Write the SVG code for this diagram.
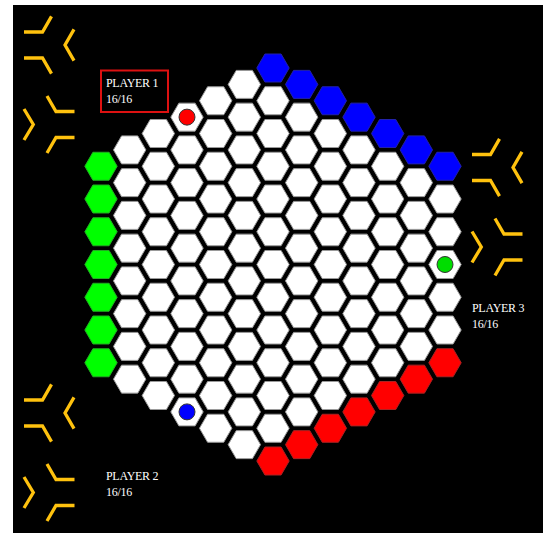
<svg xmlns="http://www.w3.org/2000/svg" xmlns:xlink="http://www.w3.org/1999/xlink" width="543" height="533" viewBox="0 0 543 533">
<style>
.w{fill:#ffffff;stroke:#9a9a9a;stroke-width:1}
.g{fill:#00ff00;stroke:#22aa22;stroke-width:1}
.b{fill:#0000ff;stroke:#2222aa;stroke-width:1}
.r{fill:#ff0000;stroke:#aa2222;stroke-width:1}
.em{fill:none;stroke:#ffc20e;stroke-width:3.3;stroke-linecap:butt;stroke-linejoin:miter}
.t{font-family:"Liberation Serif","Times New Roman",serif;font-size:12px;fill:#ffffff;letter-spacing:-0.3px}
.dot{stroke:#333333;stroke-width:1}
</style>
<defs>
<polygon id="h" points="-16.2,0 -8.1,-14 8.1,-14 16.2,0 8.1,14 -8.1,14"/>
<g id="emblem">
<polyline class="em" points="24,32 42.5,32 51.5,16.4"/>
<polyline class="em" points="74,29.4 65,45 74,60.6"/>
<polyline class="em" points="24,58 42.5,58 51.5,73.6"/>
<polyline class="em" points="47,96 56,111.5 74.5,111.5"/>
<polyline class="em" points="24,109 33.3,124.5 24,140"/>
<polyline class="em" points="47,153 56,137.5 74.5,137.5"/>
</g>
</defs>
<rect x="13" y="5" width="530" height="528" fill="#000000"/>
<g id="emblems">
<use href="#emblem"/>
<use href="#emblem" transform="translate(0,368)"/>
<use href="#emblem" transform="translate(448,122.5)"/>
</g>
<g id="board">
<g id="col0" class="g">
<use href="#h" x="101" y="166.25"/><use href="#h" x="101" y="199"/><use href="#h" x="101" y="231.75"/><use href="#h" x="101" y="264.5"/><use href="#h" x="101" y="297.25"/><use href="#h" x="101" y="330"/><use href="#h" x="101" y="362.75"/>
</g>
<g id="col1" class="w">
<use href="#h" x="129.67" y="149.88"/><use href="#h" x="129.67" y="182.63"/><use href="#h" x="129.67" y="215.38"/><use href="#h" x="129.67" y="248.13"/><use href="#h" x="129.67" y="280.88"/><use href="#h" x="129.67" y="313.63"/><use href="#h" x="129.67" y="346.38"/><use href="#h" x="129.67" y="379.13"/>
</g>
<g id="col2" class="w">
<use href="#h" x="158.33" y="133.5"/><use href="#h" x="158.33" y="166.25"/><use href="#h" x="158.33" y="199"/><use href="#h" x="158.33" y="231.75"/><use href="#h" x="158.33" y="264.5"/><use href="#h" x="158.33" y="297.25"/><use href="#h" x="158.33" y="330"/><use href="#h" x="158.33" y="362.75"/><use href="#h" x="158.33" y="395.5"/>
</g>
<g id="col3" class="w">
<use href="#h" x="187" y="117.13"/><use href="#h" x="187" y="149.88"/><use href="#h" x="187" y="182.63"/><use href="#h" x="187" y="215.38"/><use href="#h" x="187" y="248.13"/><use href="#h" x="187" y="280.88"/><use href="#h" x="187" y="313.63"/><use href="#h" x="187" y="346.38"/><use href="#h" x="187" y="379.13"/><use href="#h" x="187" y="411.88"/>
</g>
<g id="col4" class="w">
<use href="#h" x="215.67" y="100.75"/><use href="#h" x="215.67" y="133.5"/><use href="#h" x="215.67" y="166.25"/><use href="#h" x="215.67" y="199"/><use href="#h" x="215.67" y="231.75"/><use href="#h" x="215.67" y="264.5"/><use href="#h" x="215.67" y="297.25"/><use href="#h" x="215.67" y="330"/><use href="#h" x="215.67" y="362.75"/><use href="#h" x="215.67" y="395.5"/><use href="#h" x="215.67" y="428.25"/>
</g>
<g id="col5" class="w">
<use href="#h" x="244.33" y="84.38"/><use href="#h" x="244.33" y="117.13"/><use href="#h" x="244.33" y="149.88"/><use href="#h" x="244.33" y="182.63"/><use href="#h" x="244.33" y="215.38"/><use href="#h" x="244.33" y="248.13"/><use href="#h" x="244.33" y="280.88"/><use href="#h" x="244.33" y="313.63"/><use href="#h" x="244.33" y="346.38"/><use href="#h" x="244.33" y="379.13"/><use href="#h" x="244.33" y="411.88"/><use href="#h" x="244.33" y="444.63"/>
</g>
<g id="col6" class="w">
<use href="#h" class="b" x="273" y="68"/><use href="#h" x="273" y="100.75"/><use href="#h" x="273" y="133.5"/><use href="#h" x="273" y="166.25"/><use href="#h" x="273" y="199"/><use href="#h" x="273" y="231.75"/><use href="#h" x="273" y="264.5"/><use href="#h" x="273" y="297.25"/><use href="#h" x="273" y="330"/><use href="#h" x="273" y="362.75"/><use href="#h" x="273" y="395.5"/><use href="#h" x="273" y="428.25"/><use href="#h" class="r" x="273" y="461"/>
</g>
<g id="col7" class="w">
<use href="#h" class="b" x="301.67" y="84.38"/><use href="#h" x="301.67" y="117.13"/><use href="#h" x="301.67" y="149.88"/><use href="#h" x="301.67" y="182.63"/><use href="#h" x="301.67" y="215.38"/><use href="#h" x="301.67" y="248.13"/><use href="#h" x="301.67" y="280.88"/><use href="#h" x="301.67" y="313.63"/><use href="#h" x="301.67" y="346.38"/><use href="#h" x="301.67" y="379.13"/><use href="#h" x="301.67" y="411.88"/><use href="#h" class="r" x="301.67" y="444.63"/>
</g>
<g id="col8" class="w">
<use href="#h" class="b" x="330.33" y="100.75"/><use href="#h" x="330.33" y="133.5"/><use href="#h" x="330.33" y="166.25"/><use href="#h" x="330.33" y="199"/><use href="#h" x="330.33" y="231.75"/><use href="#h" x="330.33" y="264.5"/><use href="#h" x="330.33" y="297.25"/><use href="#h" x="330.33" y="330"/><use href="#h" x="330.33" y="362.75"/><use href="#h" x="330.33" y="395.5"/><use href="#h" class="r" x="330.33" y="428.25"/>
</g>
<g id="col9" class="w">
<use href="#h" class="b" x="359" y="117.13"/><use href="#h" x="359" y="149.88"/><use href="#h" x="359" y="182.63"/><use href="#h" x="359" y="215.38"/><use href="#h" x="359" y="248.13"/><use href="#h" x="359" y="280.88"/><use href="#h" x="359" y="313.63"/><use href="#h" x="359" y="346.38"/><use href="#h" x="359" y="379.13"/><use href="#h" class="r" x="359" y="411.88"/>
</g>
<g id="col10" class="w">
<use href="#h" class="b" x="387.67" y="133.5"/><use href="#h" x="387.67" y="166.25"/><use href="#h" x="387.67" y="199"/><use href="#h" x="387.67" y="231.75"/><use href="#h" x="387.67" y="264.5"/><use href="#h" x="387.67" y="297.25"/><use href="#h" x="387.67" y="330"/><use href="#h" x="387.67" y="362.75"/><use href="#h" class="r" x="387.67" y="395.5"/>
</g>
<g id="col11" class="w">
<use href="#h" class="b" x="416.33" y="149.88"/><use href="#h" x="416.33" y="182.63"/><use href="#h" x="416.33" y="215.38"/><use href="#h" x="416.33" y="248.13"/><use href="#h" x="416.33" y="280.88"/><use href="#h" x="416.33" y="313.63"/><use href="#h" x="416.33" y="346.38"/><use href="#h" class="r" x="416.33" y="379.13"/>
</g>
<g id="col12" class="w">
<use href="#h" class="b" x="445" y="166.25"/><use href="#h" x="445" y="199"/><use href="#h" x="445" y="231.75"/><use href="#h" x="445" y="264.5"/><use href="#h" x="445" y="297.25"/><use href="#h" x="445" y="330"/><use href="#h" class="r" x="445" y="362.75"/>
</g>
</g>
<g id="pieces">
<circle class="dot" cx="187" cy="117.13" r="8" fill="#ff0000"/>
<circle class="dot" cx="187" cy="411.88" r="8" fill="#0000ff"/>
<circle class="dot" cx="445" cy="264.5" r="8" fill="#00dd00"/>
</g>
<g id="player1">
<rect x="101" y="70.5" width="67" height="41.5" fill="none" stroke="#dd1111" stroke-width="2"/>
<text class="t" x="106" y="87">PLAYER 1</text>
<text class="t" x="106" y="103">16/16</text>
</g>
<g id="player2">
<text class="t" x="106" y="480">PLAYER 2</text>
<text class="t" x="106" y="496">16/16</text>
</g>
<g id="player3">
<text class="t" x="472" y="311.5">PLAYER 3</text>
<text class="t" x="472" y="327.5">16/16</text>
</g>
</svg>
